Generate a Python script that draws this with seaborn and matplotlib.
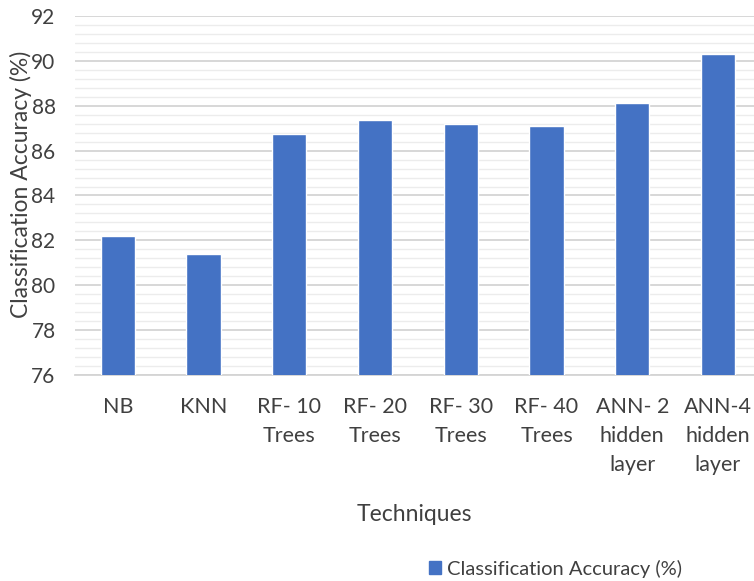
import matplotlib
matplotlib.use("Agg")
import matplotlib.pyplot as plt
import matplotlib.patches as mpatches
from matplotlib.ticker import MultipleLocator
import pandas as pd
import seaborn as sns

techniques = ["NB", "KNN", "RF- 10\nTrees", "RF- 20\nTrees", "RF- 30\nTrees",
              "RF- 40\nTrees", "ANN- 2\nhidden\nlayer", "ANN-4\nhidden\nlayer"]
accuracy = [82.2, 81.4, 86.75, 87.38, 87.2, 87.08, 88.1, 90.3]

BAR_COLOR = "#4472C4"
TEXT_COLOR = "#404040"

sns.set_theme(style="white")
plt.rcParams["font.family"] = ["Lato", "DejaVu Sans"]

df = pd.DataFrame({"Techniques": techniques, "Accuracy": accuracy})

fig = plt.figure(figsize=(7.54, 5.81), dpi=100)
ax = fig.add_axes([0.0995, 0.3546, 0.9005, 0.6179])

sns.barplot(data=df, x="Techniques", y="Accuracy", color=BAR_COLOR,
            width=0.4, saturation=1, ax=ax, zorder=3)

ax.set_ylim(76, 92)
ax.set_xlim(-0.5, 7.42)
ax.yaxis.set_major_locator(MultipleLocator(2))
ax.yaxis.set_minor_locator(MultipleLocator(0.4))
ax.grid(axis="y", which="major", color="#d4d4d4", linewidth=1.3, zorder=0)
ax.grid(axis="y", which="minor", color="#ececec", linewidth=1.0, zorder=0)
ax.set_axisbelow(True)
for s in ["top", "right", "left"]:
    ax.spines[s].set_visible(False)
ax.spines["bottom"].set_color("#d4d4d4")
ax.spines["bottom"].set_linewidth(1.3)

ax.tick_params(axis="y", which="both", length=0, labelsize=15, labelcolor=TEXT_COLOR, pad=14)
ax.tick_params(axis="x", length=0, labelsize=15.5, labelcolor=TEXT_COLOR, pad=16)
for t in ax.get_xticklabels():
    t.set_linespacing(1.55)
    t.set_verticalalignment("top")

ax.set_ylabel("Classification Accuracy (%)", fontsize=16.5, color=TEXT_COLOR)
ax.yaxis.set_label_coords(-0.064, 0.53)
ax.set_xlabel("Techniques", fontsize=16.5, color=TEXT_COLOR, labelpad=21)

handle = mpatches.Patch(color=BAR_COLOR, label="Classification Accuracy (%)")
fig.legend(handles=[handle], loc="center left", bbox_to_anchor=(0.545, 0.021),
           frameon=False, fontsize=14.5, handlelength=0.6, handleheight=0.6,
           handletextpad=0.3, labelcolor=TEXT_COLOR)

fig.savefig("out.png", dpi=100)
